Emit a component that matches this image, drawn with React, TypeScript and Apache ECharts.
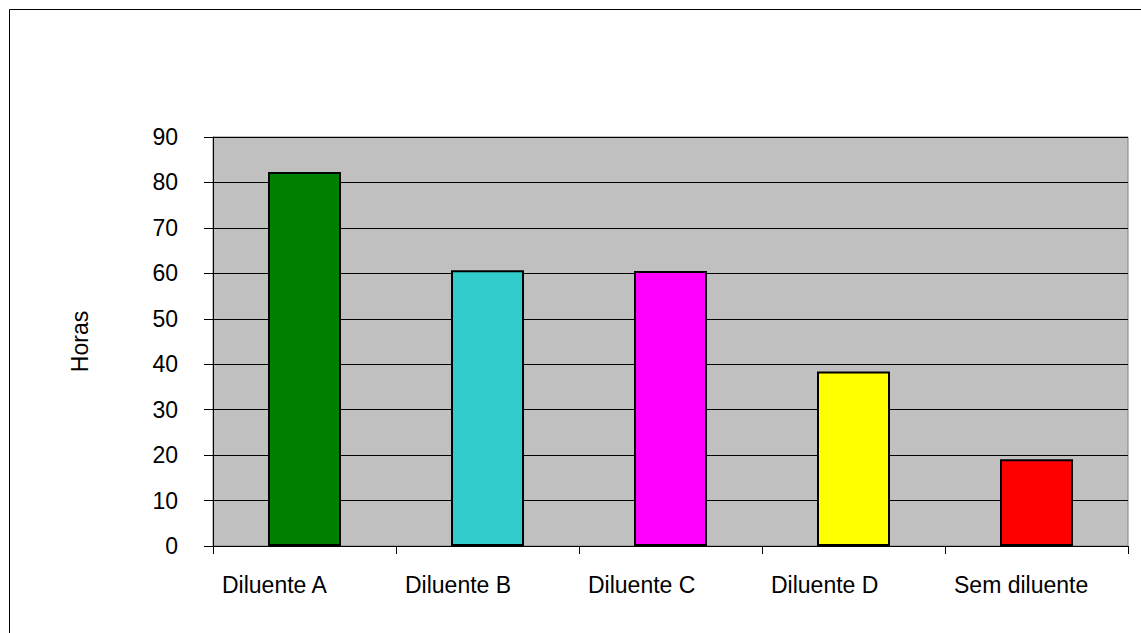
import React, { useEffect, useRef } from "react";
import * as echarts from "echarts";

const categories = ["Diluente A", "Diluente B", "Diluente C", "Diluente D", "Sem diluente"];
const values = [82.3, 60.7, 60.5, 38.4, 19.1];
const colors = ["#008000", "#33CCCC", "#FF00FF", "#FFFF00", "#FF0000"];
const yAxisName = "Horas";

export default function App() {
  const ref = useRef<HTMLDivElement>(null);
  useEffect(() => {
    const chart = echarts.init(ref.current!, null, { renderer: "svg" });
    const font = "Liberation Sans, Arial, sans-serif";
    chart.setOption({
      animation: false,
      backgroundColor: "#FFFFFF",
      graphic: [
        {
          type: "rect",
          shape: { x: 9.5, y: 9.5, width: 1300, height: 800 },
          style: { fill: "none", stroke: "#000000", lineWidth: 1 },
          silent: true,
        },
      ],
      grid: {
        left: 213,
        top: 137,
        width: 915,
        height: 409,
        show: true,
        backgroundColor: "#C0C0C0",
        borderColor: "#808080",
        borderWidth: 1,
      },
      xAxis: {
        type: "category",
        data: categories,
        axisLine: { lineStyle: { color: "#000000", width: 1 } },
        axisTick: { show: true, interval: 0, length: 8, alignWithLabel: false, lineStyle: { color: "#000000" } },
        axisLabel: {
          interval: 0,
          hideOverlap: false,
          color: "#000000",
          fontSize: 23,
          fontFamily: font,
          margin: 27,
          formatter: (v: string) => "{a|" + v + "}",
          rich: {
            a: { width: 165, align: "left", color: "#000000", fontSize: 23, fontFamily: font },
          },
        },
        splitLine: { show: false },
      },
      yAxis: {
        type: "value",
        min: 0,
        max: 90,
        interval: 10,
        name: yAxisName,
        nameLocation: "middle",
        nameGap: 122,
        nameRotate: 90,
        nameTextStyle: { color: "#000000", fontSize: 23, fontFamily: font },
        axisLine: { show: true, lineStyle: { color: "#000000", width: 1 } },
        axisTick: { show: true, length: 9, lineStyle: { color: "#000000" } },
        axisLabel: { color: "#000000", fontSize: 23, fontFamily: font, margin: 35 },
        splitLine: { show: true, lineStyle: { color: "#000000", width: 1 } },
      },
      series: [
        {
          type: "bar",
          barWidth: 73,
          data: values.map((v, i) => ({
            value: v,
            itemStyle: { color: colors[i], borderColor: "#000000", borderWidth: 2 },
          })),
        },
      ],
    });
    return () => chart.dispose();
  }, []);
  return (
    <div
      ref={ref}
      style={{ position: "fixed", left: 0, top: 0, width: 1141, height: 633 }}
    />
  );
}
